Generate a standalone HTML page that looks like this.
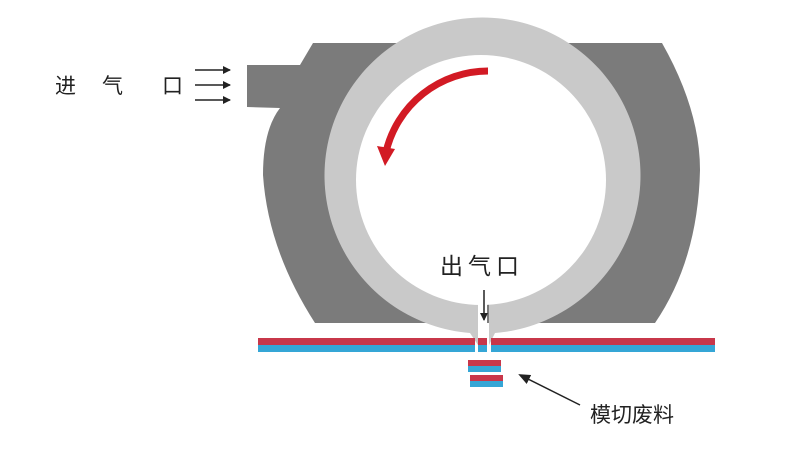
<!DOCTYPE html>
<html><head><meta charset="utf-8"><style>
body{margin:0;background:#fff;width:800px;height:459px;overflow:hidden}
svg{display:block}
text{font-family:"Liberation Sans","Noto Sans CJK SC",sans-serif;fill:#222}
</style></head><body>
<svg width="800" height="459" viewBox="0 0 800 459" xmlns="http://www.w3.org/2000/svg">
<defs>
<marker id="ah" markerWidth="8" markerHeight="8" refX="7" refY="4" orient="auto" markerUnits="userSpaceOnUse"><path d="M0,0 L8,4 L0,8 Z" fill="#222"/></marker>
<marker id="ab" markerWidth="12" markerHeight="10" refX="10" refY="5" orient="auto" markerUnits="userSpaceOnUse"><path d="M0,0 L12,5 L0,10 Z" fill="#222"/></marker>
</defs>
<path d="M247,65 L300,65 L313,43 L662,43 Q700,110 700,170 Q698,260 655,323 L315,323 Q268,250 263,175 Q263,130 280,108 L247,107 Z" fill="#7b7b7b"/>
<path d="M470,333 A158,158 0 1 1 495,333 L489,345 L489,300 L478,300 L478,345 Z" fill="#c9c9c9"/>
<circle cx="481" cy="180" r="125" fill="#fff"/>
<rect x="478" y="300" width="9" height="40" fill="#fff"/>
<path d="M488,71 A105,105 0 0 0 386,152" fill="none" stroke="#d21a24" stroke-width="7"/>
<path d="M377,146 L395,149 L385,166 Z" fill="#d21a24"/>
<rect x="258" y="338" width="217" height="7" fill="#c8374a"/>
<rect x="258" y="345" width="217" height="7" fill="#35a6d6"/>
<rect x="491" y="338" width="224" height="7" fill="#c8374a"/>
<rect x="491" y="345" width="224" height="7" fill="#35a6d6"/>
<rect x="478" y="338" width="9" height="7" fill="#c8374a"/>
<rect x="478" y="345" width="9" height="7" fill="#35a6d6"/>
<rect x="468" y="360" width="33" height="6" fill="#c8374a"/><rect x="468" y="366" width="33" height="6" fill="#35a6d6"/>
<rect x="470" y="375" width="33" height="6" fill="#c8374a"/><rect x="470" y="381" width="33" height="6" fill="#35a6d6"/>
<line x1="195" y1="70" x2="230" y2="70" stroke="#222" stroke-width="1.5" marker-end="url(#ah)"/>
<line x1="195" y1="85" x2="230" y2="85" stroke="#222" stroke-width="1.5" marker-end="url(#ah)"/>
<line x1="195" y1="100" x2="230" y2="100" stroke="#222" stroke-width="1.5" marker-end="url(#ah)"/>
<line x1="484" y1="290" x2="484" y2="320" stroke="#222" stroke-width="1.5" marker-end="url(#ah)"/>
<line x1="580" y1="405" x2="520" y2="375" stroke="#222" stroke-width="1.5" marker-end="url(#ab)"/>
<text x="55" y="93" font-size="21">进</text>
<text x="102" y="93" font-size="21" fill="#555">气</text>
<text x="162" y="93" font-size="21">口</text>
<text x="440" y="274" font-size="23" letter-spacing="5">出气口</text>
<text x="590" y="422" font-size="21">模切废料</text>
</svg>
</body></html>
